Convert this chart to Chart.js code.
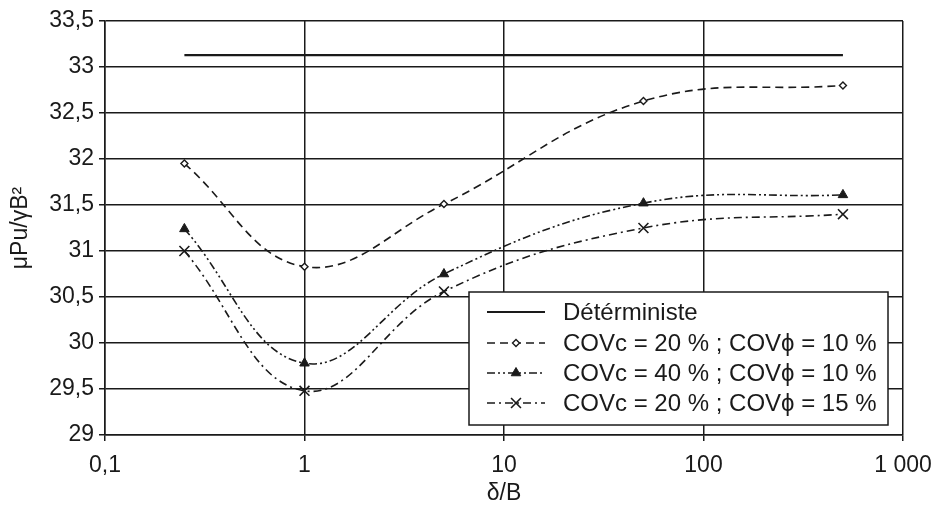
<!DOCTYPE html>
<html>
<head>
<meta charset="utf-8">
<script src="https://cdn.jsdelivr.net/npm/chart.js@4/dist/chart.umd.min.js"></script>
<style>
  html, body { margin: 0; padding: 0; background: #fff; }
  #wrap { width: 946px; height: 508px; }
</style>
</head>
<body>
<div id="wrap"><canvas id="chart" width="946" height="508"></canvas></div>
<script>
// valeurs
const xValues = [0.25, 1, 5, 50, 500];
const deterministeX = [0.25, 500];
const deterministe = [33.13, 33.13];
const covc20phi10 = [31.95, 30.83, 31.51, 32.63, 32.80];
const covc40phi10 = [31.24, 29.78, 30.75, 31.52, 31.61];
const covc20phi15 = [31.00, 29.48, 30.56, 31.25, 31.40];

const xTicks = [0.1, 1, 10, 100, 1000];
const xTickLabels = ["0,1", "1", "10", "100", "1 000"];
const yTicks = [29, 29.5, 30, 30.5, 31, 31.5, 32, 32.5, 33, 33.5];
const yTickLabels = ["29", "29,5", "30", "30,5", "31", "31,5", "32", "32,5", "33", "33,5"];

const legendLabels = [
    "Détérministe",
    "COVc = 20 % ; COVϕ = 10 %",
    "COVc = 40 % ; COVϕ = 10 %",
    "COVc = 20 % ; COVϕ = 15 %"
];

const ink = "#1a1a1a";
const FONT = "'Liberation Sans', Arial, sans-serif";

function pts(xs, ys) {
    return xs.map((x, i) => ({ x: x, y: ys[i] }));
}

// légende encadrée dans la zone du graphique
const boxLegend = {
    id: "boxLegend",
    afterDraw(chart) {
        const ctx = chart.ctx;
        const left = 469, top = 292, right = 888, bottom = 425;
        const rows = [312, 343, 373, 403];
        ctx.save();
        ctx.fillStyle = "#fff";
        ctx.fillRect(left, top, right - left, bottom - top);
        ctx.strokeStyle = ink;
        ctx.lineWidth = 1.5;
        ctx.strokeRect(left, top, right - left, bottom - top);
        chart.data.datasets.forEach((ds, i) => {
            const y = rows[i];
            ctx.save();
            ctx.strokeStyle = ds.borderColor;
            ctx.lineWidth = ds.borderWidth;
            ctx.setLineDash(ds.borderDash || []);
            ctx.beginPath();
            ctx.moveTo(487, y);
            ctx.lineTo(545, y);
            ctx.stroke();
            ctx.restore();
            if (ds.pointRadius > 0) {
                ctx.save();
                ctx.fillStyle = ds.pointBackgroundColor;
                ctx.strokeStyle = ds.pointBorderColor;
                ctx.lineWidth = ds.pointBorderWidth;
                Chart.helpers.drawPoint(ctx, {
                    pointStyle: ds.pointStyle, radius: ds.pointRadius, rotation: 0, borderWidth: ds.pointBorderWidth
                }, 516, y);
                ctx.restore();
            }
            ctx.fillStyle = ink;
            ctx.font = "24px " + FONT;
            ctx.textBaseline = "middle";
            ctx.fillText(legendLabels[i], 563, y + 1);
        });
        ctx.restore();
    }
};

new Chart(document.getElementById("chart"), {
    type: "line",
    data: {
        datasets: [
            {
                label: legendLabels[0],
                data: pts(deterministeX, deterministe),
                borderColor: ink, borderWidth: 2.2,
                pointRadius: 0, tension: 0
            },
            {
                label: legendLabels[1],
                data: pts(xValues, covc20phi10),
                borderColor: ink, borderWidth: 1.6, borderDash: [8, 5],
                pointStyle: "rectRot", pointRadius: 3.5,
                pointBackgroundColor: "#fff", pointBorderColor: ink, pointBorderWidth: 1.4,
                tension: 0.4
            },
            {
                label: legendLabels[2],
                data: pts(xValues, covc40phi10),
                borderColor: ink, borderWidth: 1.6, borderDash: [8, 3, 2, 3, 2, 3],
                pointStyle: "triangle", pointRadius: 5.5,
                pointBackgroundColor: ink, pointBorderColor: ink, pointBorderWidth: 1,
                tension: 0.4
            },
            {
                label: legendLabels[3],
                data: pts(xValues, covc20phi15),
                borderColor: ink, borderWidth: 1.6, borderDash: [8, 4, 2, 4],
                pointStyle: "crossRot", pointRadius: 7,
                pointBackgroundColor: ink, pointBorderColor: ink, pointBorderWidth: 1.6,
                tension: 0.4
            }
        ]
    },
    options: {
        responsive: false,
        animation: false,
        layout: { padding: { top: 21, right: 43, left: 0, bottom: 0 } },
        plugins: {
            legend: { display: false },
            tooltip: { enabled: false }
        },
        scales: {
            x: {
                type: "logarithmic",
                min: 0.1, max: 1000,
                afterBuildTicks: (scale) => { scale.ticks = xTicks.map(v => ({ value: v })); },
                afterFit: (scale) => { scale.height = 73; },
                grid: { color: ink, lineWidth: 1.5, tickLength: 6, tickColor: ink },
                border: { color: ink, width: 1.5 },
                ticks: {
                    color: ink, font: { family: FONT, size: 23 }, padding: 11,
                    maxRotation: 0, autoSkip: false,
                    callback: (v, i) => xTickLabels[i]
                },
                title: {
                    display: true, text: "δ/B", color: ink,
                    font: { family: FONT, size: 23 }, padding: { top: 0, bottom: 1 }
                }
            },
            y: {
                min: 29, max: 33.5,
                afterBuildTicks: (scale) => { scale.ticks = yTicks.map(v => ({ value: v })); },
                afterFit: (scale) => { scale.width = 105; },
                grid: { color: ink, lineWidth: 1.5, tickLength: 6, tickColor: ink },
                border: { color: ink, width: 1.5 },
                ticks: {
                    color: ink, font: { family: FONT, size: 23 }, padding: 5,
                    callback: (v, i) => yTickLabels[i]
                },
                title: {
                    display: true, text: "μPu/γB²", color: ink,
                    font: { family: FONT, size: 23 }, padding: { top: 7, bottom: 0 }
                }
            }
        }
    },
    plugins: [boxLegend]
});
</script>
</body>
</html>
